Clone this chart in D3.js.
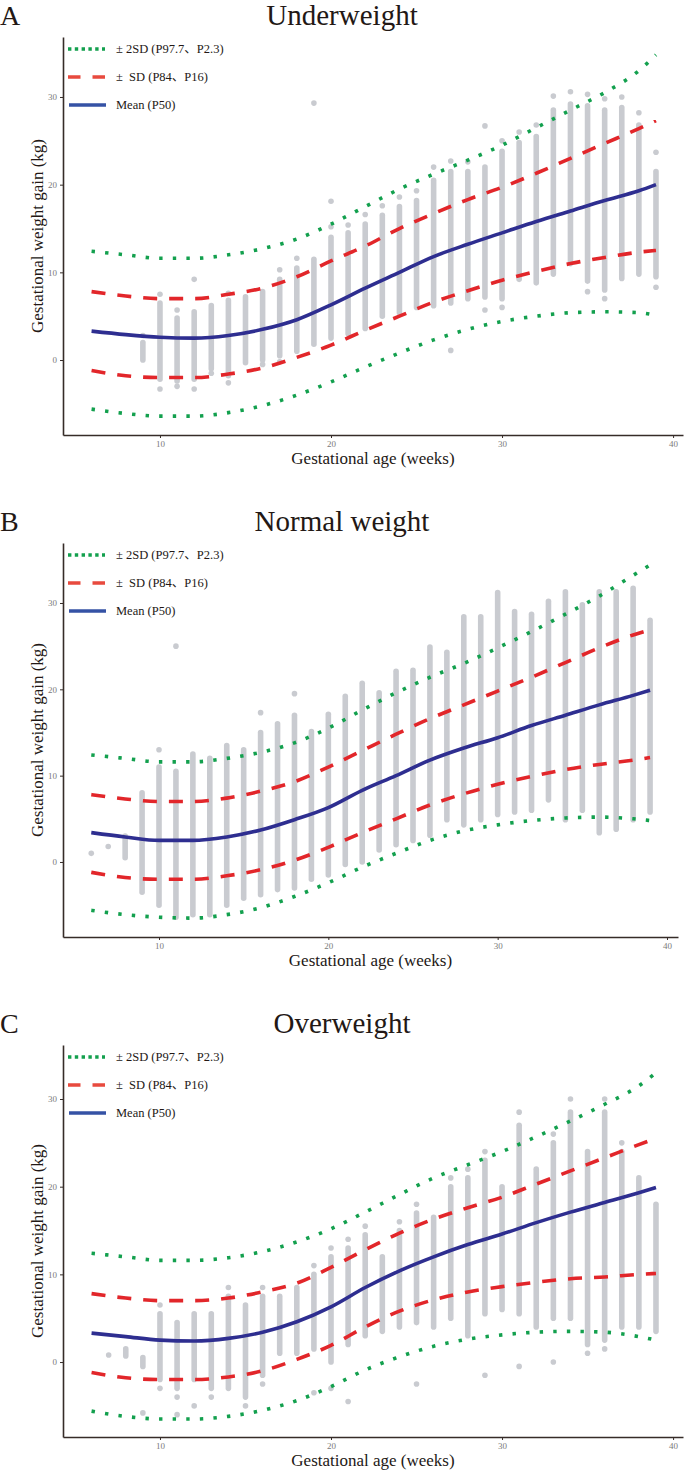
<!DOCTYPE html>
<html>
<head>
<meta charset="utf-8">
<script src="https://cdn.jsdelivr.net/npm/d3@7"></script>
<style>
  body { margin: 0; background: #fff; }
  svg { display: block; font-family: "Liberation Serif", "Times New Roman", "Noto Sans CJK SC", serif; }
</style>
</head>
<body>
<svg id="chart" width="685" height="1471"></svg>
<script>
"use strict";

const curveWeeks = [6, 8, 10, 12, 14, 16, 18, 20, 22, 24, 26, 28, 30, 32, 34, 36, 38, 39];

// --- Underweight
const meanA  = [3.3, 2.9, 2.6, 2.5, 2.8, 3.5, 4.6, 6.3, 8.2, 10.0, 11.8, 13.2, 14.5, 15.8, 17.0, 18.2, 19.3, 20.0];
const sdHiA  = [7.8, 7.3, 7.0, 7.0, 7.5, 8.2, 9.5, 11.3, 13.0, 15.0, 16.7, 18.3, 19.7, 21.3, 23.0, 24.7, 26.4, 27.3];
const sdLoA  = [-1.2, -1.8, -2.0, -2.0, -1.6, -0.9, 0.3, 1.7, 3.4, 5.0, 6.6, 7.9, 9.1, 10.1, 11.0, 11.7, 12.3, 12.5];
const sd2HiA = [12.4, 12.0, 11.6, 11.6, 12.0, 12.7, 13.8, 15.5, 17.5, 19.5, 21.2, 22.8, 24.5, 26.5, 28.5, 30.5, 33.0, 34.8];
const sd2LoA = [-5.6, -6.1, -6.4, -6.4, -6.0, -5.2, -4.0, -2.5, -0.8, 0.8, 2.3, 3.5, 4.4, 5.0, 5.4, 5.5, 5.4, 5.1];
// [week, lowest, highest] of each dense column of observations
const colsA = [[9, 0, 2], [10, -2.2, 6.5], [11, -2.4, 4.8], [12, -2.2, 5.5], [13, -1.0, 6.2], [14, -1.8, 6.8],
  [15, -0.3, 7.2], [16, 0, 7.8], [17, 0.5, 9.2], [18, 1.0, 10.5], [19, 1.8, 11.5], [20, 2.5, 14],
  [21, 3.0, 14.5], [22, 3.6, 15.5], [23, 5.0, 16.5], [24, 5.4, 17.5], [25, 6.0, 18.2], [26, 6.2, 20.5],
  [27, 6.5, 21.5], [28, 7.0, 21.5], [29, 7.2, 22], [30, 7.0, 23.8], [31, 9.2, 24.8], [32, 8.8, 25.5],
  [33, 9.8, 28.5], [34, 11.0, 29.2], [35, 9.0, 29], [36, 8.0, 28.5], [37, 9.3, 28.8], [38, 9.8, 26.8], [39, 9.5, 21.5]];
// isolated observations
const dotsA = [[9, 2.8], [10, -3.3], [10, 7.5], [11, -3.0], [11, 5.7], [12, -3.3], [12, 9.2], [13, -1.5],
  [14, -2.6], [14, 7.6], [16, -0.5], [17, -0.2], [17, 10.3], [18, 11.6], [19, 29.3], [20, 15.2], [20, 18.1],
  [21, 15.4], [22, 16.6], [23, 17.6], [24, 18.6], [25, 19.3], [26, 22], [27, 22.7], [27, 1.1], [28, 22.6],
  [29, 26.7], [29, 5.7], [30, 6.0], [30, 25], [31, 26], [32, 26.8], [33, 30.1], [34, 30.6], [35, 30.3],
  [35, 7.8], [36, 29.8], [36, 7.0], [37, 30], [38, 28.2], [39, 8.3], [39, 23.7]];

// --- Normal weight
const meanB  = [3.4, 2.9, 2.5, 2.5, 2.9, 3.7, 4.9, 6.3, 8.3, 10.0, 11.8, 13.2, 14.4, 15.8, 17.0, 18.2, 19.3, 19.9];
const sdHiB  = [7.8, 7.3, 7.0, 7.0, 7.4, 8.2, 9.3, 11.0, 12.9, 14.8, 16.6, 18.2, 19.8, 21.4, 23.1, 24.8, 26.3, 26.9];
const sdLoB  = [-1.2, -1.8, -2.0, -2.0, -1.6, -0.9, 0.2, 1.7, 3.4, 5.0, 6.6, 7.9, 9.0, 9.9, 10.7, 11.3, 11.8, 12.1];
const sd2HiB = [12.4, 12.0, 11.6, 11.6, 12.0, 12.7, 13.8, 15.5, 17.6, 19.6, 21.4, 23.0, 24.8, 26.7, 28.7, 30.8, 33.2, 34.4];
const sd2LoB = [-5.6, -6.1, -6.4, -6.5, -6.1, -5.3, -4.0, -2.4, -0.6, 1.0, 2.5, 3.6, 4.3, 4.8, 5.1, 5.2, 5.0, 4.8];
const colsB = [[8, 0.5, 3], [9, -3.5, 8], [10, -5, 11], [11, -6.4, 10.5], [12, -6.1, 12.5], [13, -6.1, 12],
  [14, -5, 13.5], [15, -4.2, 13], [16, -3.8, 15], [17, -3.2, 16], [18, -3, 17], [19, -2, 15.1],
  [20, -1.5, 17.1], [21, -0.3, 19.2], [22, 0, 20.7], [23, 1.4, 19.6], [24, 2, 22.1], [25, 2.5, 22.2],
  [26, 3.1, 24.9], [27, 4.9, 24.3], [28, 4.3, 28.4], [29, 4.9, 28.4], [30, 5.5, 31.2], [31, 5.8, 29],
  [32, 6, 28.7], [33, 7.2, 30.2], [34, 4.9, 31.3], [35, 6, 29.8], [36, 3.4, 31.3], [37, 3.8, 31.3],
  [38, 4.9, 31.7], [39, 5.8, 28]];
const dotsB = [[6, 1], [7, 1.8], [10, 13], [11, 25], [16, 17.3], [18, 19.5]];

// --- Overweight
const meanC  = [3.3, 2.9, 2.5, 2.4, 2.7, 3.4, 4.6, 6.3, 8.5, 10.4, 12.0, 13.4, 14.6, 15.9, 17.1, 18.2, 19.3, 19.9];
const sdHiC  = [7.8, 7.3, 7.0, 7.0, 7.3, 8.0, 9.0, 10.8, 12.8, 14.7, 16.3, 17.6, 18.8, 20.3, 21.8, 23.3, 24.8, 25.5];
const sdLoC  = [-1.2, -1.8, -2.0, -2.0, -1.7, -1.0, 0.3, 1.9, 4.0, 5.8, 7.1, 8.0, 8.6, 9.1, 9.5, 9.7, 10.0, 10.1];
const sd2HiC = [12.4, 12.0, 11.6, 11.6, 11.9, 12.6, 13.7, 15.2, 17.1, 19.1, 21.0, 22.5, 24.0, 25.7, 27.5, 29.4, 31.5, 33.0];
const sd2LoC = [-5.6, -6.2, -6.5, -6.5, -6.2, -5.5, -4.4, -2.8, -0.9, 0.6, 1.8, 2.6, 3.1, 3.4, 3.5, 3.4, 2.9, 2.5];
const colsC = [[8, 0.7, 1.5], [9, -0.5, 0.5], [10, -2, 5.5], [11, -3, 4.5], [12, -2, 5.5], [13, -3, 5.5],
  [14, -3, 7.5], [15, -4, 6.5], [16, -1.5, 7.5], [17, 1, 7.5], [18, 1, 8.5], [19, 1.5, 10],
  [20, 0, 12], [21, 2, 13], [22, 3, 14.5], [23, 3.5, 12], [24, 4, 15], [25, 4.5, 17], [26, 4, 16.5],
  [27, 5, 20], [28, 3, 21], [29, 5.5, 23], [30, 6, 20], [31, 5.5, 27], [32, 4, 22], [33, 5, 25],
  [34, 5, 28.5], [35, 2, 24], [36, 2.5, 28.5], [37, 4, 24], [38, 4, 21], [39, 3.5, 18]];
const dotsC = [[7, 0.8], [9, -5.8], [10, -3], [10, 6.5], [11, -6], [11, -4], [12, -5], [13, -4], [14, 8.5],
  [15, -5], [16, -2.5], [16, 8.5], [19, -3.5], [19, 11], [20, -3], [20, 13], [21, -4.5], [21, 14], [22, 15.5],
  [24, 16], [25, -2.5], [25, 18], [27, 21], [28, 22], [29, -1.5], [29, 24], [31, -0.5], [31, 28.5], [33, 0],
  [33, 26], [34, 30], [35, 1], [36, 1.5], [36, 30], [37, 25]];

const xTicks = [10, 20, 30, 40];
const yTicks = [0, 10, 20, 30];
const legendLabels = ["\u00b1 2SD (P97.7\u3001P2.3)", "\u00b1  SD (P84\u3001P16)", "Mean (P50)"];

const panels = [
  { letter: "A", title: "Underweight", top: 37, bottom: 435, left: 63, right: 683, yDom: [-8.55, 36.84],
    xDom: [4.33, 40.58], cols: colsA, dots: dotsA, mean: meanA, sdHi: sdHiA, sdLo: sdLoA, sd2Hi: sd2HiA, sd2Lo: sd2LoA },
  { letter: "B", title: "Normal weight", top: 543, bottom: 937, left: 63, right: 678, yDom: [-8.69, 36.95],
    xDom: [4.33, 40.65], cols: colsB, dots: dotsB, mean: meanB, sdHi: sdHiB, sdLo: sdLoB, sd2Hi: sd2HiB, sd2Lo: sd2LoB },
  { letter: "C", title: "Overweight", top: 1045, bottom: 1437, left: 63, right: 683, yDom: [-8.55, 36.16],
    xDom: [4.33, 40.58], cols: colsC, dots: dotsC, mean: meanC, sdHi: sdHiC, sdLo: sdLoC, sd2Hi: sd2HiC, sd2Lo: sd2LoC }
];

const svg = d3.select("#chart");
const pointColor = "#c9cbd0";
const green = "#13a04e", red = "#e2262a", navy = "#2e2e90";

function drawPanel(p) {
  const g = svg.append("g");
  const x = d3.scaleLinear().domain(p.xDom).range([p.left, p.right]);
  const y = d3.scaleLinear().domain(p.yDom).range([p.bottom, p.top]);

  // letter + title
  g.append("text").attr("x", 0).attr("y", p.top - 12).attr("font-size", 28).attr("fill", "#231815").text(p.letter);
  g.append("text").attr("x", 342).attr("y", p.top - 12).attr("text-anchor", "middle")
    .attr("font-size", 29).attr("fill", "#231815").text(p.title);

  // observations
  g.append("g").selectAll("line").data(p.cols).join("line")
    .attr("x1", d => x(d[0])).attr("x2", d => x(d[0]))
    .attr("y1", d => y(d[1])).attr("y2", d => y(d[2]))
    .attr("stroke", pointColor).attr("stroke-width", 5.6).attr("stroke-linecap", "round");
  g.append("g").selectAll("circle").data(p.dots).join("circle")
    .attr("cx", d => x(d[0])).attr("cy", d => y(d[1])).attr("r", 2.8).attr("fill", pointColor);

  // fitted curves
  const line = d3.line().x((d, i) => x(curveWeeks[i])).y(d => y(d)).curve(d3.curveMonotoneX);
  const styles = [
    [p.sd2Hi, green, "3.4,10.2"], [p.sd2Lo, green, "3.4,10.2"],
    [p.sdHi, red, "14,12"], [p.sdLo, red, "14,12"],
    [p.mean, navy, null]
  ];
  styles.forEach(s => {
    g.append("path").attr("d", line(s[0])).attr("fill", "none").attr("stroke", s[1])
      .attr("stroke-width", 3.6).attr("stroke-dasharray", s[2]);
  });

  // axes
  const ax = g.append("g").attr("transform", "translate(0," + p.bottom + ")")
    .call(d3.axisBottom(x).tickValues(xTicks).tickSize(3).tickSizeOuter(0));
  const ay = g.append("g").attr("transform", "translate(" + p.left + ",0)")
    .call(d3.axisLeft(y).tickValues(yTicks).tickSize(3).tickSizeOuter(0));
  [ax, ay].forEach(a => {
    a.select(".domain").attr("stroke", "#362c28").attr("stroke-width", 1.6);
    a.selectAll(".tick line").attr("stroke", "#362c28");
    a.selectAll(".tick text").attr("font-family", "Liberation Serif, serif").attr("font-size", 9).attr("fill", "#7a7a7a");
  });

  g.append("text").attr("x", (p.left + p.right) / 2).attr("y", p.bottom + 29).attr("text-anchor", "middle")
    .attr("font-size", 17).attr("fill", "#231815").text("Gestational age (weeks)");
  g.append("text").attr("transform", "translate(43," + (p.top + p.bottom) / 2 + ") rotate(-90)")
    .attr("text-anchor", "middle").attr("font-size", 17).attr("fill", "#231815").text("Gestational weight gain (kg)");

  // legend
  const lg = g.append("g");
  const ly = [p.top + 12, p.top + 40, p.top + 68];
  lg.append("line").attr("x1", 68).attr("x2", 105).attr("y1", ly[0]).attr("y2", ly[0])
    .attr("stroke", green).attr("stroke-width", 3.6).attr("stroke-dasharray", "3.4,3.4");
  lg.append("line").attr("x1", 68).attr("x2", 105).attr("y1", ly[1]).attr("y2", ly[1])
    .attr("stroke", "#e84a3e").attr("stroke-width", 3.6).attr("stroke-dasharray", "12.5,12");
  lg.append("line").attr("x1", 69).attr("x2", 106).attr("y1", ly[2]).attr("y2", ly[2])
    .attr("stroke", "#3552a5").attr("stroke-width", 3.6);
  legendLabels.forEach((t, i) => {
    lg.append("text").attr("x", 116).attr("y", ly[i] + 4).attr("font-size", 12.5).attr("fill", "#231815")
      .style("white-space", "pre").text(t);
  });
}

panels.forEach(drawPanel);
</script>
</body>
</html>
